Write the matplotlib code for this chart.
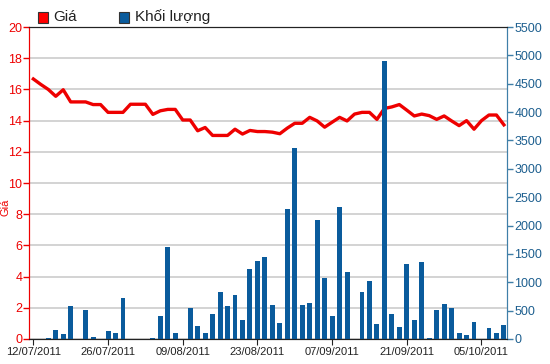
import numpy as np
import matplotlib
matplotlib.use("Agg")
import matplotlib.pyplot as plt
from matplotlib.patches import Rectangle

plt.rcParams["font.family"] = ["Liberation Sans", "DejaVu Sans"]

# trading-day data, 12/07/2011 .. 10/10/2011
price = [16.67, 16.32, 16.0, 15.56, 15.98, 15.2, 15.2, 15.2, 15.03, 15.03,
         14.53, 14.53, 14.53, 15.05, 15.05, 15.05, 14.4, 14.63, 14.72, 14.72,
         14.04, 14.04, 13.35, 13.56, 13.05, 13.05, 13.05, 13.45, 13.14, 13.37,
         13.3, 13.3, 13.26, 13.16, 13.52, 13.83, 13.83, 14.21, 13.98, 13.58,
         13.9, 14.21, 13.98, 14.42, 14.53, 14.53, 14.08, 14.78, 14.88, 15.03,
         14.67, 14.3, 14.42, 14.32, 14.08, 14.3, 13.98, 13.68, 14.0, 13.45,
         14.0, 14.36, 14.36, 13.73]
volume = [0, 0, 25, 160, 90, 583, 0, 512, 42, 0,
          137, 113, 714, 0, 0, 0, 24, 399, 1624, 107,
          0, 553, 226, 107, 446, 821, 577, 779, 339, 1226,
          1380, 1446, 595, 280, 2293, 3369, 595, 643, 2099, 1071,
          399, 2333, 1178, 0, 821, 1029, 268, 4908, 446, 220,
          1315, 333, 1357, 18, 506, 625, 553, 107, 65, 292,
          0, 196, 107, 244]
tick_idx = [0, 10, 20, 30, 40, 50, 60]
tick_labels = ["12/07/2011", "26/07/2011", "09/08/2011", "23/08/2011",
               "07/09/2011", "21/09/2011", "05/10/2011"]

RED = "#ee0000"
BLUE = "#0a5b9c"
AXBLUE = "#3f7fa8"

fig = plt.figure(figsize=(5.5, 3.64), dpi=100)
ax = fig.add_axes([0.0533, 0.0687, 0.869, 0.857])
ax2 = ax.twinx()

x = np.arange(len(price))
ax.plot(x, price, color=RED, lw=2.4, solid_joinstyle="round", zorder=3)
ax2.bar(x, volume, width=0.66, color=BLUE, zorder=2)

ax.set_xlim(-0.54, 63.45)
ax.set_ylim(0, 20)
ax.set_yticks(range(0, 21, 2))
ax2.set_ylim(0, 5500)
ax2.set_yticks(range(0, 5501, 500))
ax.set_xticks(tick_idx)
ax.set_xticklabels(tick_labels)

ax.grid(axis="y", color="#cccccc", lw=1.2)
ax.set_axisbelow(True)

for a in (ax, ax2):
    a.spines["top"].set_color("#222222")
    a.spines["bottom"].set_color("#222222")
    a.spines["left"].set_color(RED)
    a.spines["right"].set_color(AXBLUE)

ax.tick_params(axis="y", colors=RED, labelsize=9, length=4, width=1, pad=1)
ax.tick_params(axis="y", labelcolor=RED)
ax2.tick_params(axis="y", colors=AXBLUE, labelcolor="#1d5f8f", labelsize=9,
                length=4, width=1, pad=1)
ax.tick_params(axis="x", colors="#222222", labelsize=8, length=4, pad=2)

# axis title on the far left
fig.text(0.0095, 0.43, "Giá", rotation=90, color=RED, fontsize=8,
         ha="center", va="center")

# legend drawn at the top
fig.add_artist(Rectangle((38 / 550, 1 - 23 / 364), 10 / 550, 11 / 364,
                         transform=fig.transFigure, facecolor="#ff0000",
                         edgecolor="#333333", lw=0.8))
fig.text(53 / 550, 1 - 17 / 364, "Giá", fontsize=11, color="#222222",
         va="center", ha="left")
fig.add_artist(Rectangle((119 / 550, 1 - 23 / 364), 10 / 550, 11 / 364,
                         transform=fig.transFigure, facecolor="#0a5b9c",
                         edgecolor="#333333", lw=0.8))
fig.text(135 / 550, 1 - 17 / 364, "Khối lượng", fontsize=11, color="#222222",
         va="center", ha="left")

fig.savefig("out.png", dpi=100)
